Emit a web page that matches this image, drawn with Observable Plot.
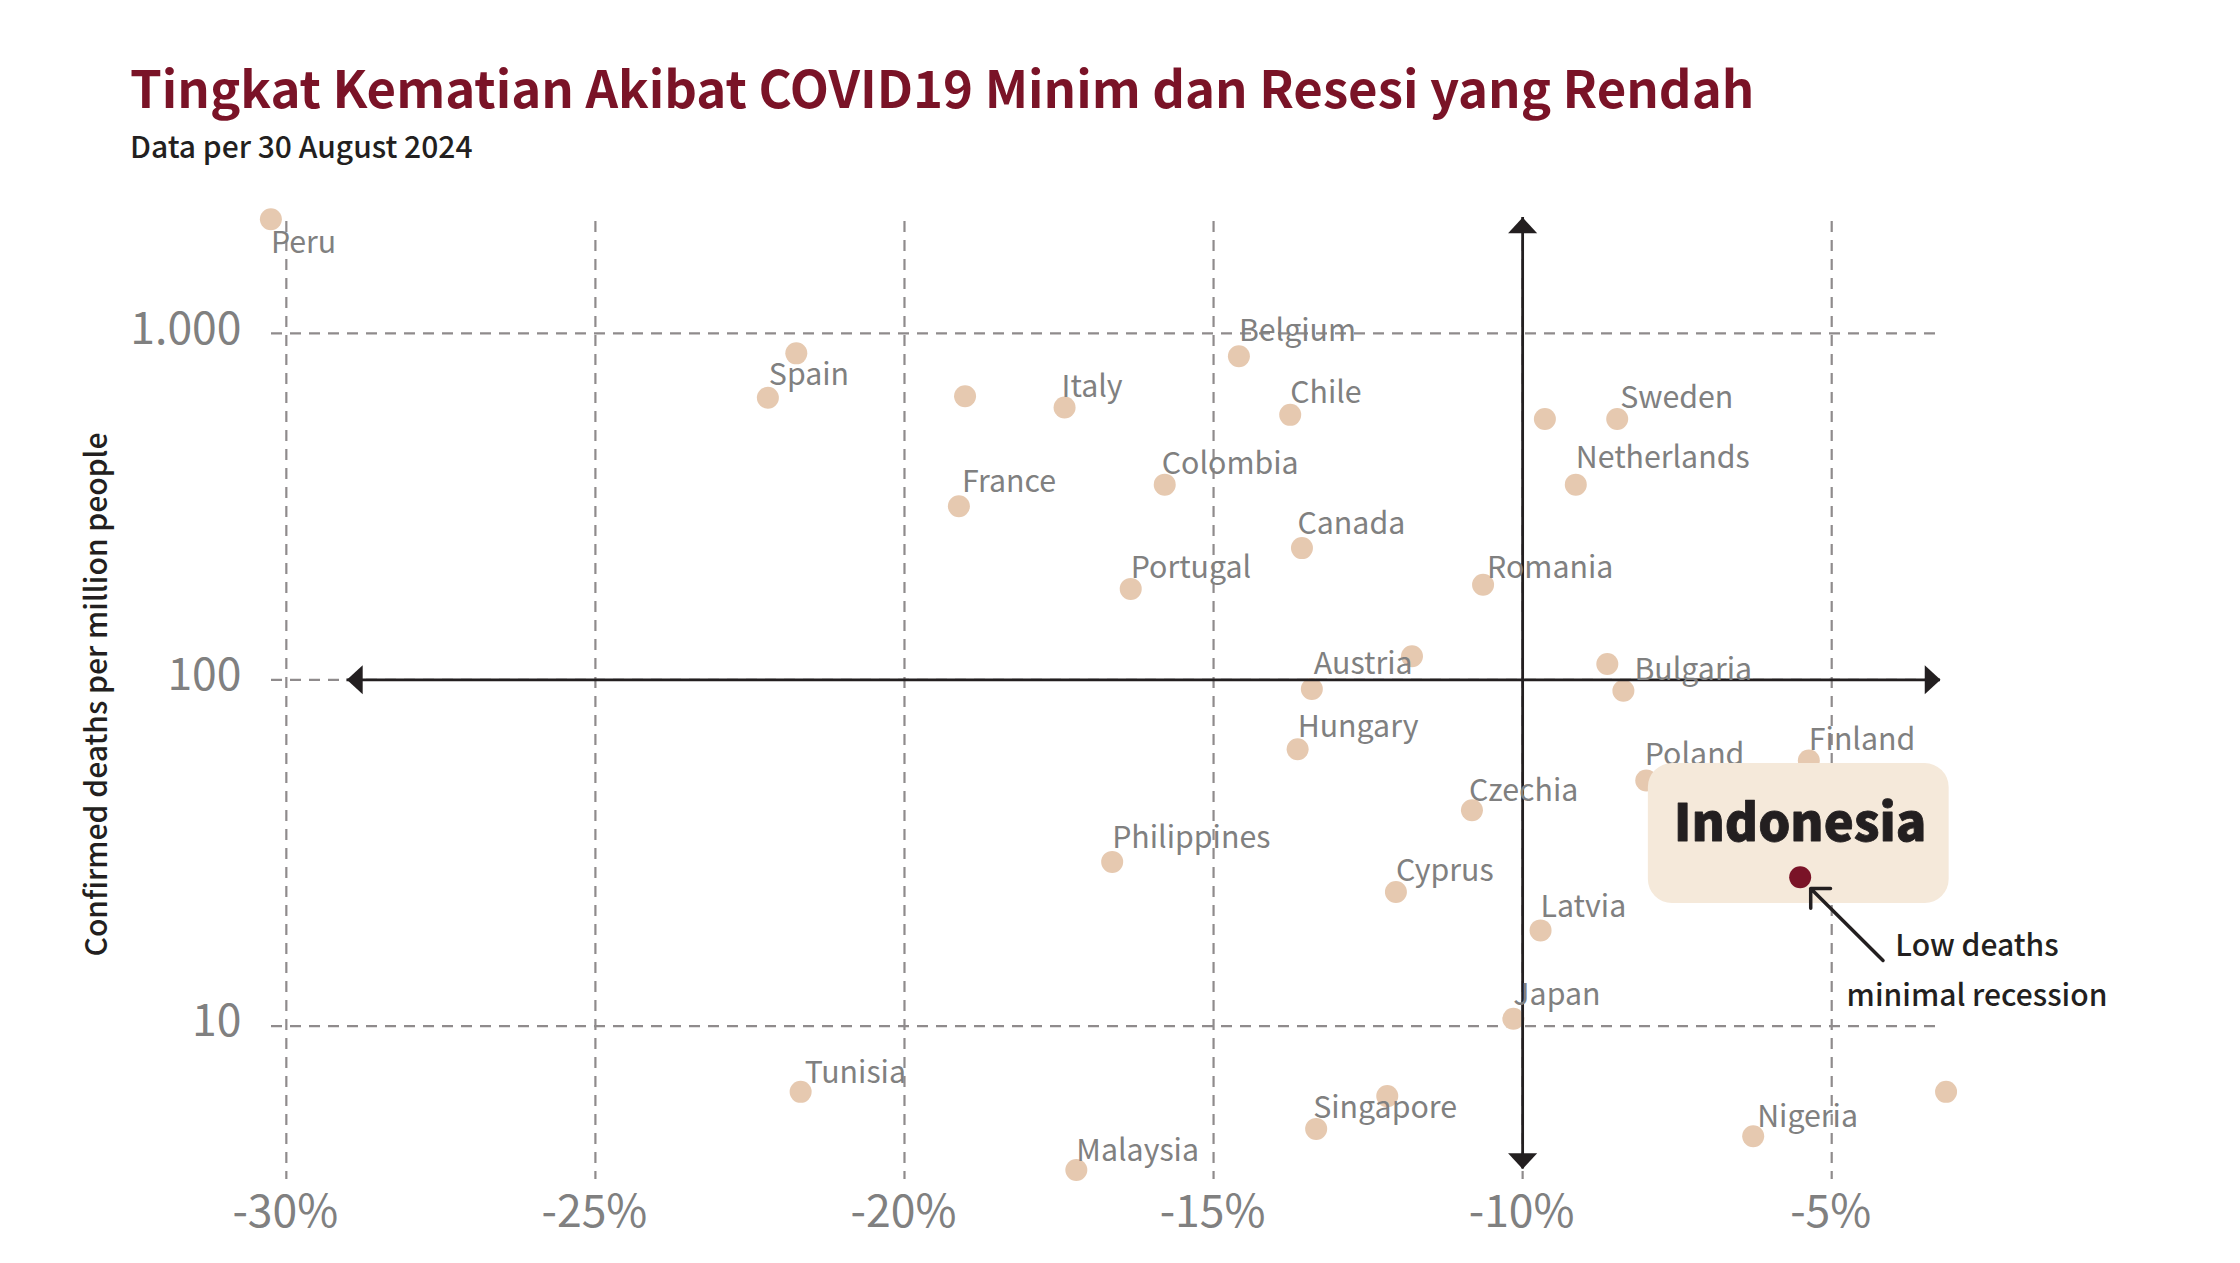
<!DOCTYPE html>
<html>
<head>
<meta charset="utf-8">
<script src="https://cdn.jsdelivr.net/npm/d3@7"></script>
<script src="https://cdn.jsdelivr.net/npm/@observablehq/plot@0.6"></script>
<style>
html,body{margin:0;padding:0;background:#fff;font-family:"Noto Sans CJK SC","Noto Sans",sans-serif}
#head{height:175px;position:relative;overflow:hidden}
#title{position:absolute;left:130px;top:48px;font-size:50.9px;font-weight:700;line-height:76px;color:#7a1327;white-space:nowrap}
#sub{position:absolute;left:130px;top:123px;font-size:30px;font-weight:500;line-height:44px;color:#231f20;white-space:nowrap}
svg{display:block}
</style>
</head>
<body>
<div id="head">
<div id="title">Tingkat Kematian Akibat COVID19 Minim dan Resesi yang Rendah</div>
<div id="sub">Data per 30 August 2024</div>
</div>
<div id="chart"></div>
<script>
const countries = ["Peru","Spain","","","Italy","France","Colombia","Belgium","Chile","Sweden","","Netherlands","Canada","Portugal","Romania","","Austria","","Bulgaria","Hungary","Czechia","Philippines","Cyprus","Latvia","Japan","Poland","Finland","Tunisia","","Singapore","Malaysia","Nigeria",""];
const gdpChange = [-30.25,-22.21,-21.75,-19.02,-17.41,-19.12,-15.79,-14.59,-13.76,-8.47,-9.64,-9.14,-13.57,-16.34,-10.64,-11.79,-13.41,-8.63,-8.37,-13.64,-10.82,-16.64,-12.05,-9.71,-10.15,-8.0,-5.37,-21.68,-12.19,-13.34,-17.22,-6.27,-3.15];
const deaths = [2138,652,876,659,611,317,366,859,582,566,566,366,240,183,188,117,94,111,93,63,42,29.8,24.4,18.9,10.5,51.2,58.5,6.46,6.28,5.05,3.84,4.81,6.46];
const highlight = {name:"Indonesia", x:-5.51, y:26.9};
const xTicks = [-30,-25,-20,-15,-10,-5];
const yTicks = [10,100,1000];
const refX = -10, refY = 100;

const rows = countries.map((name,i)=>({name,x:gdpChange[i],y:deaths[i]}));
const labelled = rows.filter(d=>d.name);
const labelOffset = {Peru:[0,24.5],Spain:[1,-22],Italy:[-3,-20.5],France:[3,-23.5],Colombia:[-3,-20.6],Belgium:[0,-25],Chile:[0,-22],Sweden:[3,-20.6],Netherlands:[0,-26.3],Canada:[-4.5,-23.4],Portugal:[0,-20.6],Romania:[4,-16.3],Austria:[2,-24.9],Bulgaria:[11,-20.6],Hungary:[0,-22],Finland:[0,-20.6],Poland:[-1.5,-24.9],Czechia:[-3,-19],Philippines:[0,-23.4],Cyprus:[0,-20.6],Latvia:[0,-23.4],Japan:[0,-23.4],Tunisia:[4,-19],Singapore:[-3,-20.6],Malaysia:[0,-19],Nigeria:[4,-19]};
const ink = "#231f20", grey = "#808080", dash = "#8f8b8c";
const head = {draw(c,size){const k=Math.sqrt(size/Math.PI);c.moveTo(0,0);c.lineTo(k*0.97,k*1.05);c.lineTo(-k*0.97,k*1.05);c.closePath();}};
const fmtY = d=>d3.format(",")(d).replace(",",".");

const plot = Plot.plot({
  width:2240,height:1088,
  marginLeft:271,marginRight:300,marginTop:46,marginBottom:84,
  style:{fontFamily:'"Noto Sans CJK SC","Noto Sans",sans-serif',background:"#fff",overflow:"hidden"},
  x:{domain:[-30.24,-3.24]},
  y:{type:"log",domain:[3.607,2105]},
  marks:[
    Plot.ruleX(xTicks,{stroke:dash,strokeWidth:2.2,strokeDasharray:"11 8"}),
    Plot.ruleY(yTicks,{stroke:dash,strokeWidth:2.2,strokeDasharray:"11 8"}),
    Plot.axisX(xTicks,{tickSize:0,tickPadding:16,fontSize:44.5,fill:grey,label:null,tickFormat:d=>d+"%",dx:-1}),
    Plot.axisY(yTicks,{tickSize:0,tickPadding:30,fontSize:44.5,fill:grey,label:null,tickFormat:fmtY,dy:-4}),
    Plot.text(["Confirmed deaths per million people"],{frameAnchor:"left",textAnchor:"middle",rotate:-90,dx:-174,dy:-6,fontSize:30,fontWeight:500,fill:ink}),
    Plot.dot(rows,{x:"x",y:"y",r:11,fill:"#e6c9b0"}),
    Plot.ruleX([refX],{y1:3.87,y2:2163,stroke:ink,strokeWidth:2.8}),
    Plot.ruleY([refY],{x1:-29.02,x2:-3.24,stroke:ink,strokeWidth:2.8}),
    Plot.dot([{x:refX,y:2163,a:0},{x:refX,y:3.87,a:180},{x:-29.02,y:refY,a:-90},{x:-3.24,y:refY,a:90}],{x:"x",y:"y",rotate:"a",r:15,symbol:head,fill:ink,stroke:"none"}),
    ...labelled.map(d=>Plot.text([d],{x:"x",y:"y",text:"name",textAnchor:"start",fontSize:30.3,fill:grey,dx:labelOffset[d.name][0],dy:labelOffset[d.name][1]})),
    Plot.rect([{x1:-7.966,x2:-3.10,y1:22.6,y2:57.3}],{x1:"x1",x2:"x2",y1:"y1",y2:"y2",fill:"#f5e9da",rx:24}),
    Plot.dot([highlight],{x:"x",y:"y",r:11,fill:"#7a1327"}),
    Plot.text([highlight],{x:"x",y:"y",text:"name",fontSize:50.6,fontWeight:900,fill:ink,stroke:ink,strokeWidth:0.8,dy:-52}),
    Plot.arrow([{x1:-4.17,y1:15.47,x2:-5.34,y2:24.97}],{x1:"x1",y1:"y1",x2:"x2",y2:"y2",stroke:ink,strokeWidth:3.5,headAngle:90,headLength:8.5}),
    Plot.text(["Low deaths\nminimal recession"],{x:-2.65,y:15.06,fontSize:30,fontWeight:500,fill:ink,lineHeight:1.667})
  ]
});
document.getElementById("chart").append(plot);
</script>
</body>
</html>
